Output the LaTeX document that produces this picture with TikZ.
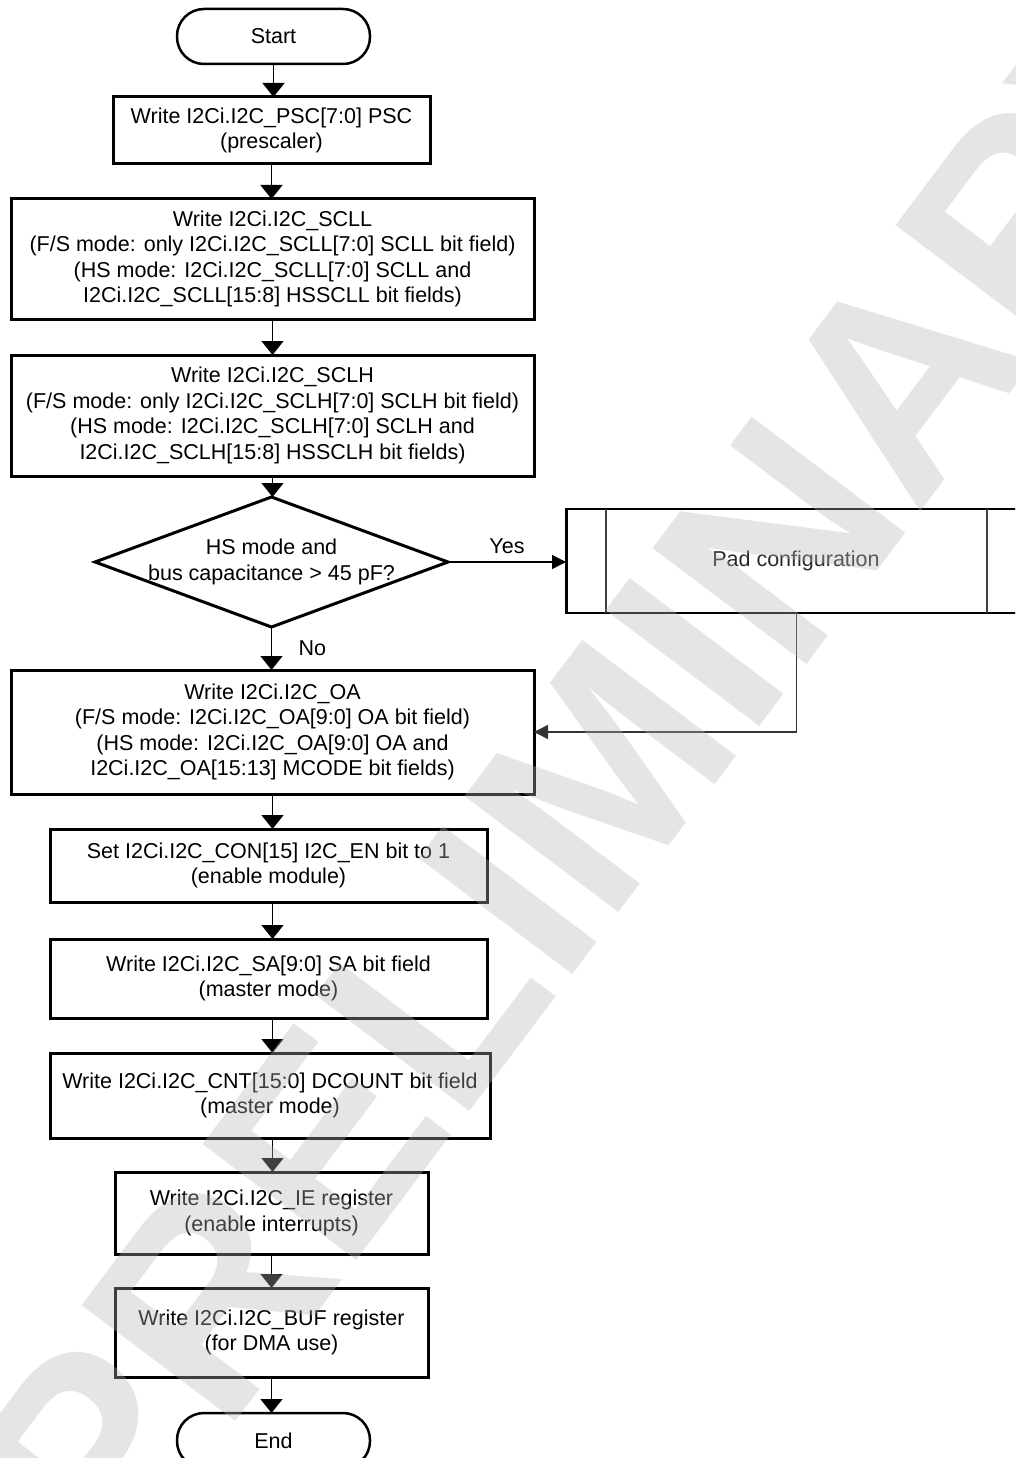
\documentclass[tikz,border=0pt]{standalone}
\usepackage{fontspec}
\setmainfont{Liberation Sans}
\usetikzlibrary{shapes.geometric,arrows.meta}
\definecolor{wm}{RGB}{183,183,183}
\definecolor{padtext}{RGB}{40,40,40}
\tikzset{
  txt/.style={font=\fontsize{21.5}{25.5}\selectfont, align=center, inner sep=0pt, outer sep=0pt},
  box/.style={txt, draw, line width=3pt, rectangle},
  term/.style={txt, draw, line width=2.5pt, rectangle, rounded corners=27pt, minimum width=193pt, minimum height=55pt},
  dec/.style={draw, line width=3pt, diamond, inner sep=0pt, outer sep=0pt, minimum width=353pt, minimum height=130pt},
  arr/.style={line width=1.5pt, -{Triangle[width=22pt,length=14pt]}},
  sidearr/.style={line width=1.5pt, -{Triangle[width=14pt,length=14pt]}},
  thin/.style={line width=1.5pt, draw=black!75},
  lab/.style={txt}
}
\begin{document}
\begin{tikzpicture}[x=1pt,y=-1pt]
\useasboundingbox (0,0) rectangle (1015,1458);
\clip (0,0) rectangle (1015,1458);
\fill[white] (0,0) rectangle (1015,1458);

\node[term] (start) at (273.5,36.5) {Start};
\node[box, minimum width=317pt, minimum height=67pt] (b1) at (271.5,130.5) {Write I2Ci.I2C\_PSC[7:0] PSC\\(prescaler)};
\node[box, minimum width=523pt, minimum height=120pt] (b2) at (272.5,259) {Write I2Ci.I2C\_SCLL\\(F/S mode: only I2Ci.I2C\_SCLL[7:0] SCLL bit field)\\(HS mode: I2Ci.I2C\_SCLL[7:0] SCLL and\\I2Ci.I2C\_SCLL[15:8] HSSCLL bit fields)};
\node[box, minimum width=523pt, minimum height=121pt] (b3) at (272.5,415.5) {Write I2Ci.I2C\_SCLH\\(F/S mode: only I2Ci.I2C\_SCLH[7:0] SCLH bit field)\\(HS mode: I2Ci.I2C\_SCLH[7:0] SCLH and\\I2Ci.I2C\_SCLH[15:8] HSSCLH bit fields)};
\node[dec] (dec) at (271.5,562) {};
\node[txt] (dectext) at (dec.center) {HS mode and\\bus capacitance > 45 pF?};
\node[rectangle, draw, thin, draw=black, inner sep=0pt, outer sep=0pt, minimum width=461pt, minimum height=104pt] (pad) at (796.5,561) {};
\node[txt, text=padtext] (padtext) at (796,561) {Pad configuration};
\node[box, minimum width=523pt, minimum height=124pt] (b4) at (272.5,732) {Write I2Ci.I2C\_OA\\(F/S mode: I2Ci.I2C\_OA[9:0] OA bit field)\\(HS mode: I2Ci.I2C\_OA[9:0] OA and\\I2Ci.I2C\_OA[15:13] MCODE bit fields)};
\node[box, minimum width=437pt, minimum height=73pt] (b5) at (268.5,865.5) {Set I2Ci.I2C\_CON[15] I2C\_EN bit to 1\\(enable module)};
\node[box, minimum width=437pt, minimum height=79pt] (b6) at (268.5,978.5) {Write I2Ci.I2C\_SA[9:0] SA bit field\\(master mode)};
\node[box, minimum width=440pt, minimum height=85pt] (b7) at (270,1095.5) {Write I2Ci.I2C\_CNT[15:0] DCOUNT bit field\\(master mode)};
\node[box, minimum width=313pt, minimum height=82pt] (b8) at (271.5,1213) {Write I2Ci.I2C\_IE register\\(enable interrupts)};
\node[box, minimum width=313pt, minimum height=89pt] (b9) at (271.5,1332.5) {Write I2Ci.I2C\_BUF register\\(for DMA use)};
\node[term] (end) at (273.5,1440.5) {End};

% pad box details
\draw[line width=3pt] (pad.north west) -- (pad.south west);
\draw[thin] ([xshift=40pt]pad.north west) -- ([xshift=40pt]pad.south west);
\draw[thin] ([xshift=-40pt]pad.north east) -- ([xshift=-40pt]pad.south east);

% connectors
\draw[arr] (start.south) -- (start.south |- b1.north);
\draw[arr] (b1.south) -- (b1.south |- b2.north);
\draw[arr] (b2.south) -- (b2.south |- b3.north);
\draw[arr] (b3.south) -- (b3.south |- dec.north);
\draw[arr] (dec.south) -- (dec.south |- b4.north) node[lab, pos=0.5, anchor=west, xshift=27pt] (no) {No};
\draw[sidearr] (dec.east) -- (dec.east -| pad.west) node[lab, pos=0.5, anchor=south, yshift=8pt] (yes) {Yes};
\draw[sidearr, draw=black!80] (pad.south) |- (b4.east);
\draw[arr] (b4.south) -- (b4.south |- b5.north);
\draw[arr] (b4.south |- b5.south) -- (b4.south |- b6.north);
\draw[arr] (b4.south |- b6.south) -- (b4.south |- b7.north);
\draw[arr] (b4.south |- b7.south) -- (b4.south |- b8.north);
\draw[arr] (b8.south) -- (b8.south |- b9.north);
\draw[arr] (b9.south) -- (b9.south |- end.north);

% watermark
\node[rotate=53, text=wm, text opacity=0.35, inner sep=0pt, font=\fontsize{280}{280}\bfseries\selectfont] (wmark) at (612,762) {PRELIMINARY};
\end{tikzpicture}
\end{document}
